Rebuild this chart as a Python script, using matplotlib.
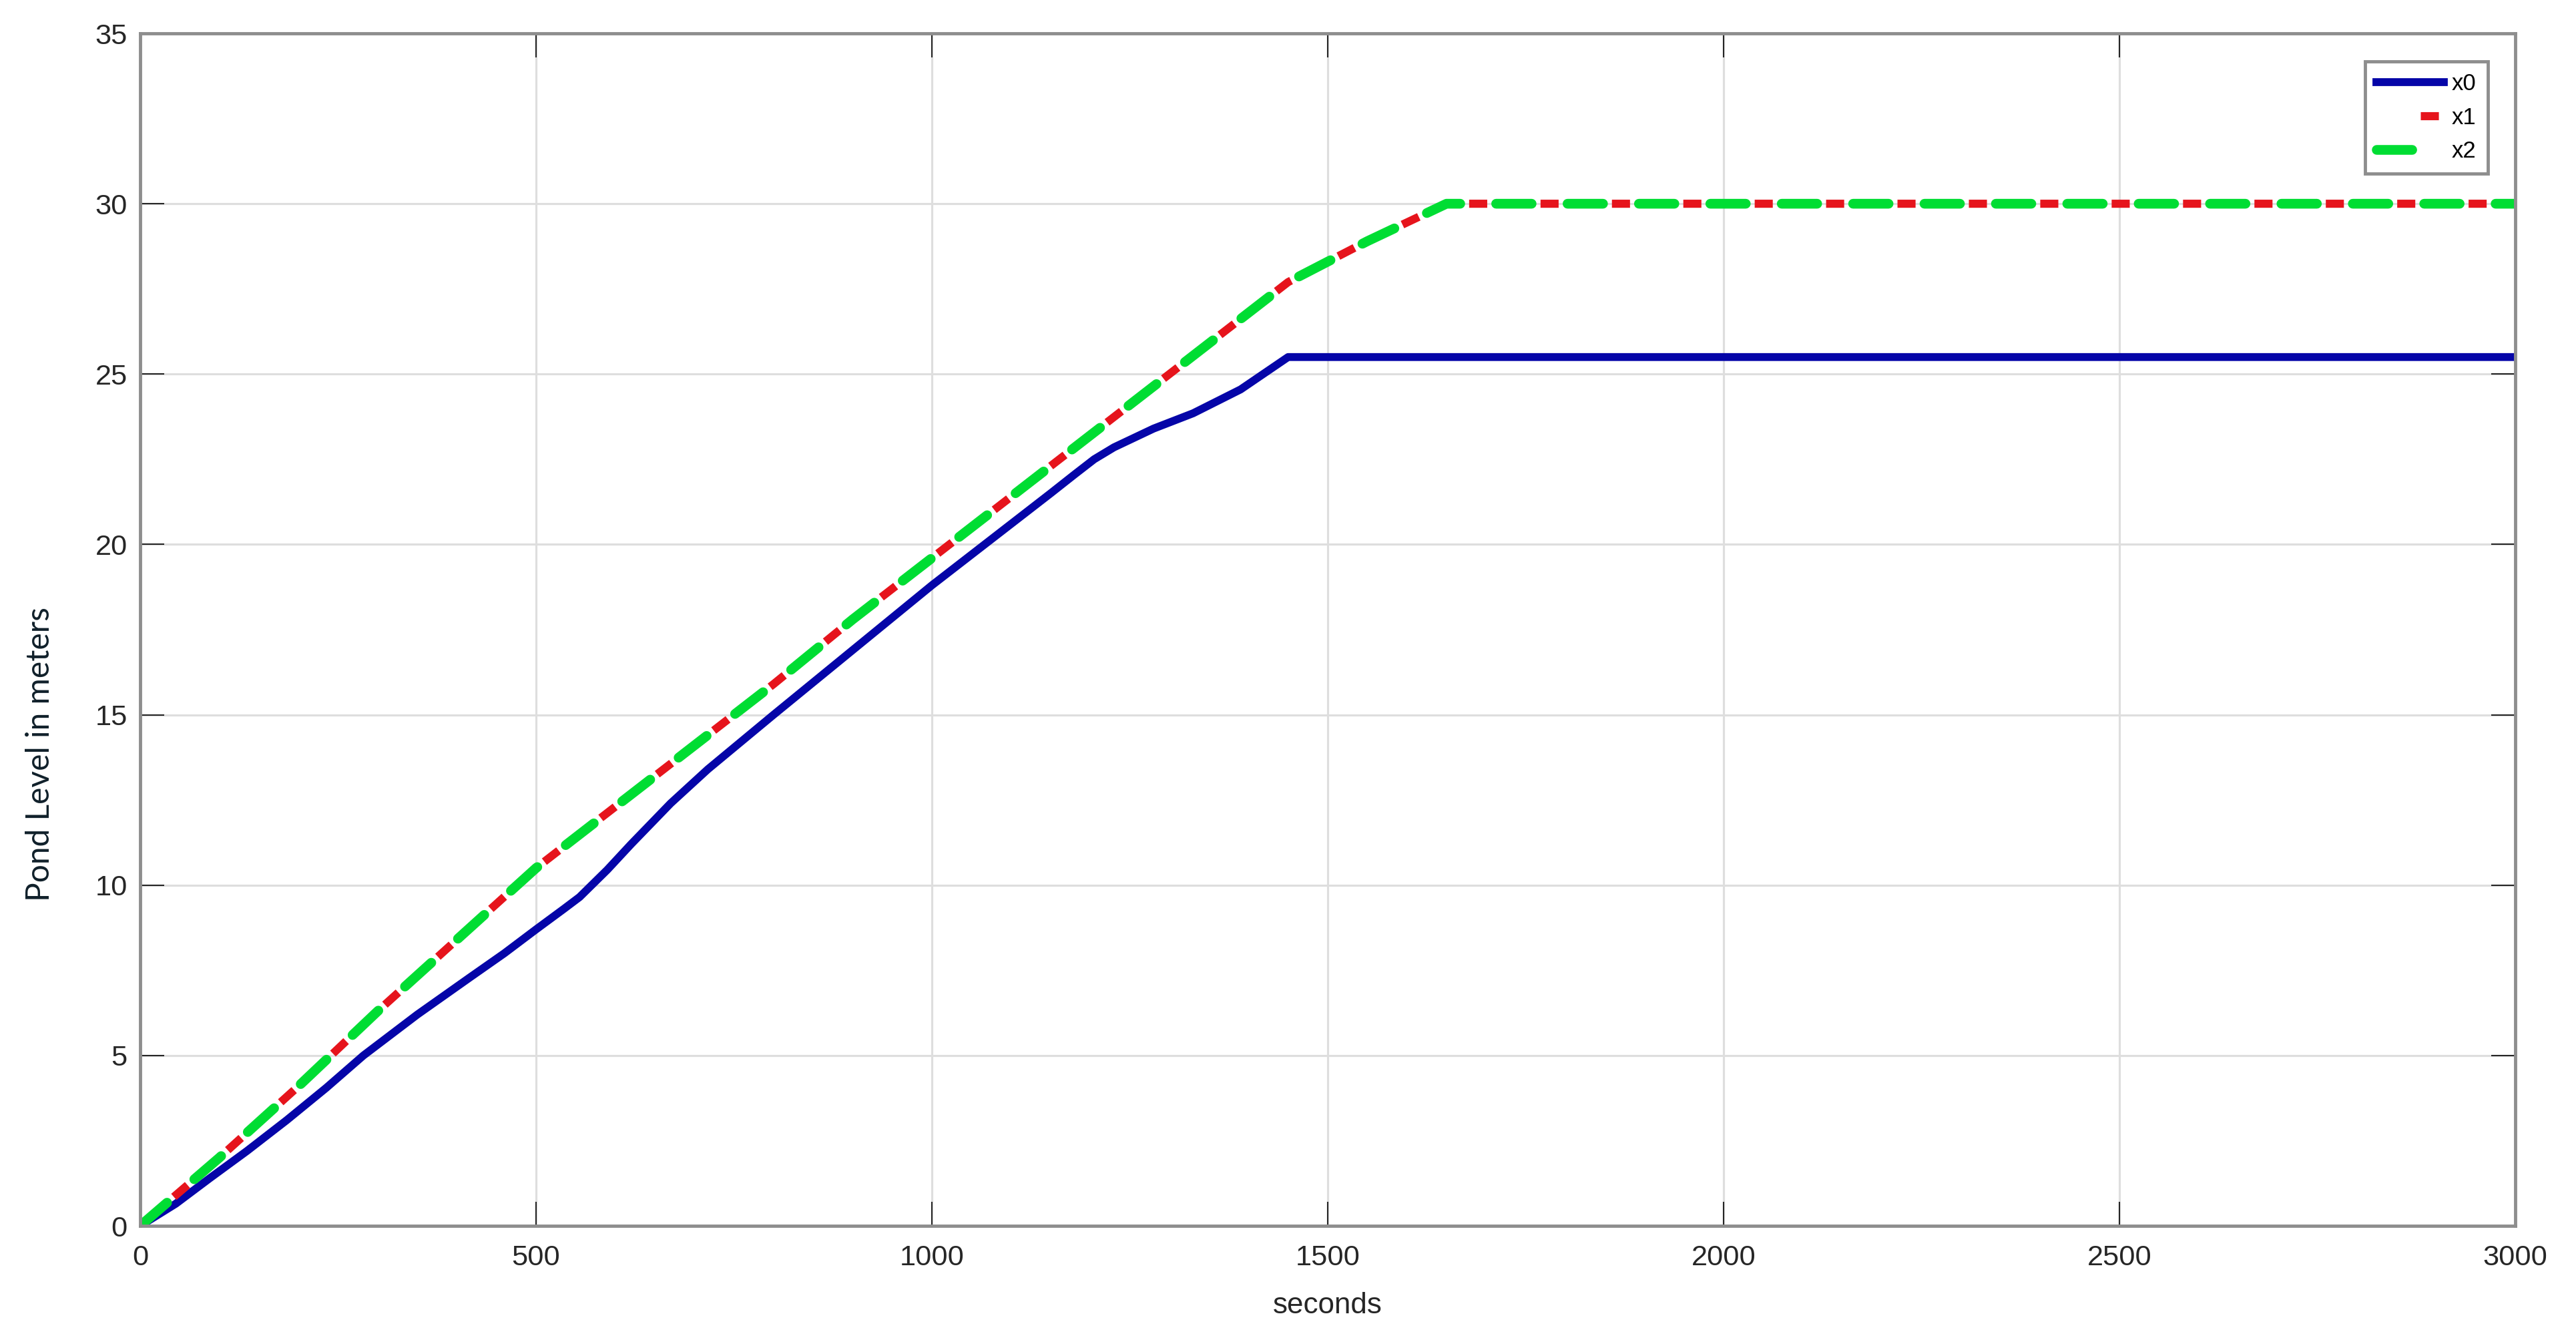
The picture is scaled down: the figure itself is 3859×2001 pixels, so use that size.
import matplotlib
matplotlib.use("Agg")
import matplotlib.pyplot as plt

plt.rcParams['font.family'] = ['Liberation Sans', 'DejaVu Sans']
plt.rcParams['lines.scale_dashes'] = False

# values (seconds, pond level in meters)
t_x0 = [0, 45, 88, 135, 185, 235, 282, 350, 417, 460, 500, 535, 555, 590, 620, 670, 717,
        800, 900, 1000, 1100, 1150, 1180, 1205, 1230, 1280, 1330, 1390, 1450, 3000]
x0 = [0, 0.65, 1.4, 2.2, 3.1, 4.05, 5.0, 6.2, 7.3, 8.0, 8.7, 9.3, 9.65, 10.45, 11.2, 12.4, 13.4,
      15.0, 16.9, 18.8, 20.6, 21.5, 22.05, 22.5, 22.85, 23.4, 23.85, 24.55, 25.5, 25.5]

t_x12 = [0, 100, 200, 300, 400, 500, 600, 700, 800, 900, 1000, 1100, 1200,
         1300, 1400, 1450, 1550, 1650, 3000]
x1 = [0, 2.0, 4.1, 6.3, 8.4, 10.5, 12.3, 14.1, 15.9, 17.8, 19.6, 21.4, 23.2,
      25.0, 26.8, 27.7, 28.9, 30.0, 30.0]
x2 = [0, 2.0, 4.1, 6.3, 8.4, 10.5, 12.3, 14.1, 15.9, 17.8, 19.6, 21.4, 23.2,
      25.0, 26.8, 27.7, 28.9, 30.0, 30.0]

xticks = [0, 500, 1000, 1500, 2000, 2500, 3000]
yticks = [0, 5, 10, 15, 20, 25, 30, 35]

W, H = 3859, 2001
fig = plt.figure(figsize=(W / 250, H / 250), dpi=250)
fig.patch.set_facecolor('white')
ax = fig.add_axes([210 / W, 1 - 1836 / H, (3768 - 210) / W, (1836 - 50) / H])

ax.plot(t_x0, x0, color='#0505a8', lw=3.4, label='x0', solid_joinstyle='round')
ax.plot(t_x12, x1, color='#e6141c', lw=3.5, linestyle=(11.65, (7.8, 23.0)),
        label='x1', dash_capstyle='butt')
ax.plot(t_x12, x2, color='#00dd33', lw=4.2, linestyle=(0, (15.3, 15.5)),
        label='x2', dash_capstyle='round')

ax.set_xlim(0, 3000)
ax.set_ylim(0, 35)
ax.set_xticks(xticks)
ax.set_yticks(yticks)
ax.grid(True, color='#dedede', lw=0.9)
ax.set_axisbelow(True)

ax.tick_params(direction='in', length=10.4, width=0.6, color='#262626',
               labelsize=12.5, labelcolor='#262626', top=True, right=True)
ax.tick_params(axis='x', pad=8)
ax.tick_params(axis='y', pad=5.5)
for s in ax.spines.values():
    s.set_color('#8e8e8e')
    s.set_linewidth(1.4)

ax.set_xlabel('seconds', fontsize=12.7, color='#262626', labelpad=9)
fig.text(60 / W, 1 - 1130 / H, 'Pond Level in meters', rotation=90,
         ha='center', va='center', fontsize=13.8, family=['Lato', 'DejaVu Sans'],
         color='#10202a')

leg = ax.legend(loc='upper right', bbox_to_anchor=(3727 / W, 1 - 92 / H),
                bbox_transform=fig.transFigure, borderaxespad=0,
                fontsize=10, fancybox=False, framealpha=1,
                handlelength=2.9, handletextpad=0.35, labelspacing=0.5,
                borderpad=0.5)
leg.get_frame().set_edgecolor('#8e8e8e')
leg.get_frame().set_linewidth(1.4)

fig.savefig('out.png', dpi=250, facecolor='white')
